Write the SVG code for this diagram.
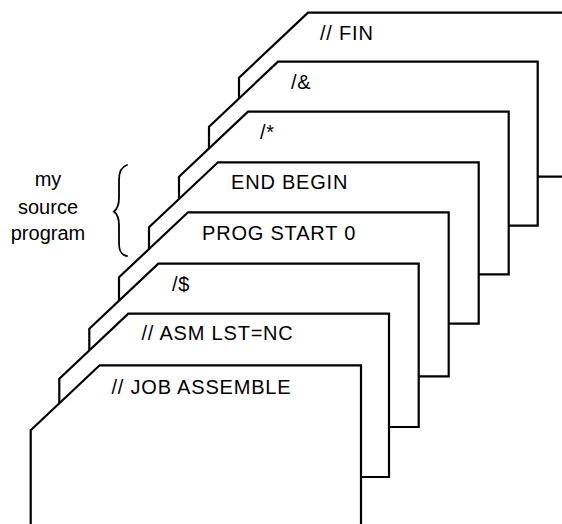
<svg xmlns="http://www.w3.org/2000/svg" width="562" height="524" viewBox="0 0 562 524">
  <style>
    .card { fill: #fff; stroke: #000; stroke-width: 2.2; stroke-linejoin: miter; }
    .lbl { font-family: "Liberation Sans", Arial, sans-serif; font-size: 20px; letter-spacing: 0.8px; fill: #000; }
    .side { font-family: "Liberation Sans", Arial, sans-serif; font-size: 20px; fill: #000; text-anchor: middle; }
    .brace { fill: none; stroke: #000; stroke-width: 1.8; stroke-linecap: round; }
  </style>
  <rect width="562" height="524" fill="#fff"/>

  <!-- deck drawn back to front; each card has a clipped top-left corner -->
  <g id="card-fin">
    <path class="card" d="M239,77.7 L308,12.7 L567,12.7 L567,176.7 L239,176.7 Z"/>
    <text class="lbl" x="320" y="40">// FIN</text>
  </g>
  <g id="card-amp">
    <path class="card" d="M209,126.7 L278,61.7 L537.7,61.7 L537.7,225.7 L209,225.7 Z"/>
    <text class="lbl" x="291" y="89">/&amp;</text>
  </g>
  <g id="card-star">
    <path class="card" d="M179,176.7 L248,111.7 L508.7,111.7 L508.7,274.3 L179,274.3 Z"/>
    <text class="lbl" x="260" y="139">/*</text>
  </g>
  <g id="card-end">
    <path class="card" d="M149,227.3 L218,162.3 L478.7,162.3 L478.7,323.7 L149,323.7 Z"/>
    <text class="lbl" x="231" y="189">END BEGIN</text>
  </g>
  <g id="card-prog">
    <path class="card" d="M119,277.3 L188,212.3 L448.7,212.3 L448.7,376.3 L119,376.3 Z"/>
    <text class="lbl" x="202" y="240">PROG START 0</text>
  </g>
  <g id="card-dollar">
    <path class="card" d="M89.3,328.7 L158.3,263.7 L418.7,263.7 L418.7,427 L89.3,427 Z"/>
    <text class="lbl" x="172" y="291">/$</text>
  </g>
  <g id="card-asm">
    <path class="card" d="M59.3,378.7 L128.3,313.7 L389,313.7 L389,477 L59.3,477 Z"/>
    <text class="lbl" x="141.5" y="340">// ASM LST=NC</text>
  </g>
  <g id="card-job">
    <path class="card" d="M30.7,430.3 L99.7,365.3 L361,365.3 L361,530 L30.7,530 Z"/>
    <text class="lbl" x="111.5" y="394">// JOB ASSEMBLE</text>
  </g>

  <!-- side note with curly brace -->
  <g id="note">
    <text class="side" x="48" y="186">my</text>
    <text class="side" x="48" y="214">source</text>
    <text class="side" x="48" y="240">program</text>
    <path class="brace" d="M127,165 C121,167 119,172 119,180 L119,198 C119,205 117,209 114,211.5 C117,214 119,218 119,225 L119,243 C119,251 121,255 127,256"/>
  </g>
</svg>
